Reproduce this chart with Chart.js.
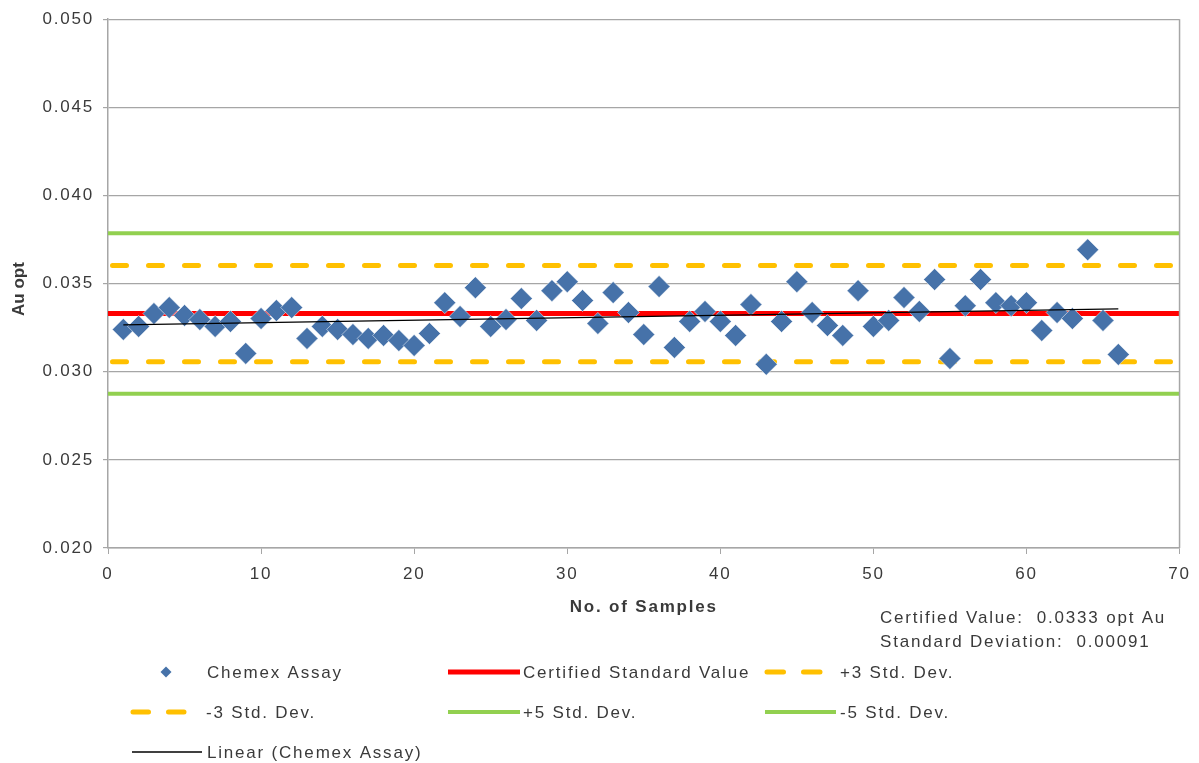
<!DOCTYPE html>
<html>
<head>
<meta charset="utf-8">
<script src="https://cdn.jsdelivr.net/npm/chart.js@4.4.1/dist/chart.umd.min.js"></script>
<style>
  html, body { margin: 0; padding: 0; background: #fff; }
  #wrap { width: 1199px; height: 763px; position: relative; }
</style>
</head>
<body>
<div id="wrap"><canvas id="qcChart" width="1199" height="763"></canvas></div>
<script>
// valores
const muestras = [];
for (let i = 1; i <= 66; i++) muestras.push(i);
const chemex = [
    0.03240, 0.03257, 0.03330, 0.03364, 0.03319, 0.03296, 0.03257, 0.03285, 0.03104, 0.03302,
    0.03347, 0.03364, 0.03189, 0.03257, 0.03240, 0.03211, 0.03189, 0.03206, 0.03177, 0.03149,
    0.03217, 0.03392, 0.03313, 0.03477, 0.03257, 0.03296, 0.03415, 0.03291, 0.03460, 0.03511,
    0.03404, 0.03274, 0.03449, 0.03336, 0.03211, 0.03483, 0.03138, 0.03285, 0.03342, 0.03285,
    0.03206, 0.03381, 0.03042, 0.03285, 0.03511, 0.03336, 0.03262, 0.03206, 0.03460, 0.03257,
    0.03291, 0.03421, 0.03342, 0.03523, 0.03075, 0.03375, 0.03523, 0.03392, 0.03375, 0.03392,
    0.03234, 0.03336, 0.03302, 0.03692, 0.03291, 0.03098
];
const valorCertificado = 0.0333;
const desviacion = 0.00091;
const limites = [0.03603, 0.03057, 0.03785, 0.02875]; // +3, -3, +5, -5
const xRango = [0, 70];
const yTicks = [0.020, 0.025, 0.030, 0.035, 0.040, 0.045, 0.050];

// recta de tendencia (minimos cuadrados)
function tendencia(xs, ys) {
    const n = xs.length;
    let sx = 0, sy = 0, sxy = 0, sxx = 0;
    for (let i = 0; i < n; i++) {
        sx += xs[i]; sy += ys[i]; sxy += xs[i] * ys[i]; sxx += xs[i] * xs[i];
    }
    const b = (n * sxy - sx * sy) / (n * sxx - sx * sx);
    const a = (sy - b * sx) / n;
    const x0 = xs[0], x1 = xs[n - 1];
    return [{ x: x0, y: a + b * x0 }, { x: x1, y: a + b * x1 }];
}

const horizontal = v => [{ x: xRango[0], y: v }, { x: xRango[1], y: v }];

const FUENTE = "'Liberation Sans', Arial, sans-serif";
const TEXTO = '#3a3a3a';
const AZUL = '#4672A9';
const NARANJA = '#FFC000';
const VERDE = '#92D050';

// posiciones de la leyenda (fila, columna)
const posLeyenda = {
    'Chemex Assay': { y: 672, x0: 132, x1: 202, tx: 207 },
    'Certified Standard Value': { y: 672, x0: 448, x1: 520, tx: 523 },
    '+3 Std. Dev.': { y: 672, x0: 765, x1: 822, tx: 840 },
    '-3 Std. Dev.': { y: 712, x0: 131, x1: 186, tx: 206 },
    '+5 Std. Dev.': { y: 712, x0: 448, x1: 520, tx: 523 },
    '-5 Std. Dev.': { y: 712, x0: 765, x1: 836, tx: 840 },
    'Linear (Chemex Assay)': { y: 752, x0: 132, x1: 202, tx: 207 }
};

const extras = {
    id: 'extras',
    beforeDraw(chart) {
        chart.ctx.letterSpacing = '1.8px';
    },
    afterDraw(chart) {
        const ctx = chart.ctx;
        const area = chart.chartArea;
        ctx.save();
        ctx.letterSpacing = '1.8px';

        // borde derecho del area
        ctx.strokeStyle = '#a6a6a6';
        ctx.lineWidth = 1.5;
        ctx.beginPath();
        ctx.moveTo(area.right, area.top);
        ctx.lineTo(area.right, area.bottom);
        ctx.stroke();

        // titulos de ejes
        ctx.fillStyle = TEXTO;
        ctx.font = 'bold 17px ' + FUENTE;
        ctx.textAlign = 'center';
        ctx.textBaseline = 'middle';
        ctx.fillText('No. of Samples', (area.left + area.right) / 2, 607);
        ctx.save();
        ctx.letterSpacing = '0px';
        ctx.translate(19, 289);
        ctx.rotate(-Math.PI / 2);
        ctx.fillText('Au opt', 0, 0);
        ctx.restore();

        // notas
        ctx.font = '17px ' + FUENTE;
        ctx.textAlign = 'left';
        ctx.fillText('Certified Value:  ' + valorCertificado.toFixed(4) + ' opt Au', 880, 618);
        ctx.fillText('Standard Deviation:  ' + desviacion.toFixed(5), 880, 642);

        // leyenda
        chart.data.datasets.forEach(ds => {
            const p = posLeyenda[ds.label];
            if (!p) return;
            if (ds.showLine === false) {
                const cx = (p.x0 + p.x1) / 2 - 1;
                ctx.fillStyle = ds.backgroundColor;
                ctx.beginPath();
                ctx.moveTo(cx, p.y - 5.5);
                ctx.lineTo(cx + 5.5, p.y);
                ctx.lineTo(cx, p.y + 5.5);
                ctx.lineTo(cx - 5.5, p.y);
                ctx.closePath();
                ctx.fill();
            } else {
                ctx.strokeStyle = ds.borderColor;
                ctx.lineWidth = ds.borderWidth;
                if (ds.borderDash) {
                    ctx.lineCap = 'round';
                    const w = (p.x1 - p.x0 - 16) / 2;
                    ctx.beginPath();
                    ctx.moveTo(p.x0 + 2, p.y); ctx.lineTo(p.x0 + w - 2, p.y);
                    ctx.moveTo(p.x1 - w + 2, p.y); ctx.lineTo(p.x1 - 2, p.y);
                    ctx.stroke();
                } else {
                    ctx.lineCap = 'butt';
                    ctx.beginPath();
                    ctx.moveTo(p.x0, p.y); ctx.lineTo(p.x1, p.y);
                    ctx.stroke();
                }
            }
            ctx.fillStyle = TEXTO;
            ctx.fillText(ds.label, p.tx, p.y + 1);
        });
        ctx.restore();
    }
};

const ctx = document.getElementById('qcChart').getContext('2d');

new Chart(ctx, {
    type: 'scatter',
    data: {
        datasets: [
            {
                label: 'Linear (Chemex Assay)',
                data: tendencia(muestras, chemex),
                showLine: true,
                borderColor: '#000',
                borderWidth: 1.3,
                pointRadius: 0,
                order: 0
            },
            {
                label: 'Chemex Assay',
                data: muestras.map((m, i) => ({ x: m, y: chemex[i] })),
                showLine: false,
                pointStyle: 'rectRot',
                pointRadius: 11,
                backgroundColor: AZUL,
                borderColor: 'rgba(255,255,255,0.5)',
                borderWidth: 1,
                order: 1
            },
            {
                label: 'Certified Standard Value',
                data: horizontal(valorCertificado),
                showLine: true, borderColor: '#FF0000', borderWidth: 5, pointRadius: 0, order: 2
            },
            {
                label: '+3 Std. Dev.',
                data: horizontal(limites[0]),
                showLine: true, borderColor: NARANJA, borderWidth: 5, pointRadius: 0,
                borderDash: [14, 22], borderDashOffset: 31.5, borderCapStyle: 'round', order: 3
            },
            {
                label: '-3 Std. Dev.',
                data: horizontal(limites[1]),
                showLine: true, borderColor: NARANJA, borderWidth: 5, pointRadius: 0,
                borderDash: [14, 22], borderDashOffset: 31.5, borderCapStyle: 'round', order: 3
            },
            {
                label: '+5 Std. Dev.',
                data: horizontal(limites[2]),
                showLine: true, borderColor: VERDE, borderWidth: 4, pointRadius: 0, order: 4
            },
            {
                label: '-5 Std. Dev.',
                data: horizontal(limites[3]),
                showLine: true, borderColor: VERDE, borderWidth: 4, pointRadius: 0, order: 4
            }
        ]
    },
    options: {
        responsive: false,
        animation: false,
        layout: {
            padding: { top: 18, right: 19, left: 0, bottom: 0 }
        },
        scales: {
            x: {
                type: 'linear',
                min: xRango[0],
                max: xRango[1],
                afterFit: scale => { scale.height = 215; },
                ticks: {
                    stepSize: 10,
                    color: TEXTO,
                    padding: 10,
                    font: { size: 17, family: FUENTE }
                },
                grid: {
                    drawOnChartArea: false,
                    drawTicks: true,
                    tickLength: 6,
                    color: '#a6a6a6'
                },
                border: { color: '#a6a6a6', width: 1.5 }
            },
            y: {
                min: yTicks[0],
                max: yTicks[yTicks.length - 1],
                afterFit: scale => { scale.width = 108; },
                afterBuildTicks: scale => { scale.ticks = yTicks.map(v => ({ value: v })); },
                ticks: {
                    color: TEXTO,
                    padding: 9,
                    callback: v => v.toFixed(3),
                    font: { size: 17, family: FUENTE }
                },
                grid: {
                    color: '#a6a6a6',
                    lineWidth: 1.2,
                    tickLength: 5
                },
                border: { color: '#a6a6a6', width: 1.5 }
            }
        },
        plugins: {
            legend: { display: false },
            tooltip: { enabled: false },
            title: { display: false }
        }
    },
    plugins: [extras]
});
</script>
</body>
</html>
